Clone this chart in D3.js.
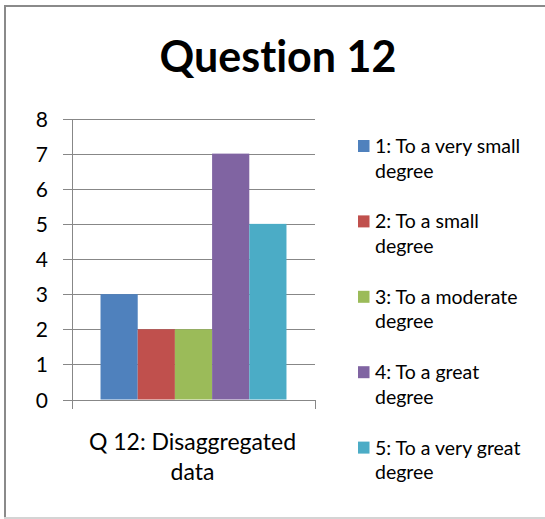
<!DOCTYPE html>
<html>
<head>
<meta charset="utf-8">
<script src="https://cdn.jsdelivr.net/npm/d3@7/dist/d3.min.js"></script>
<style>
  html, body { margin: 0; padding: 0; background: #fff; }
  text { font-family: Lato, "Open Sans", sans-serif; font-variant-ligatures: none; }
</style>
</head>
<body>
<div id="chart"></div>
<script>
// chart data
var title = "Question 12";
var categories = ["Q 12: Disaggregated data"];
var seriesNames = ["1: To a very small degree", "2: To a small degree", "3: To a moderate degree", "4: To a great degree", "5: To a very great degree"];
var seriesValues = [3, 2, 2, 7, 5];
var seriesColors = ["#4F81BD", "#C0504D", "#9BBB59", "#8064A2", "#4BACC6"];
var yTicks = [0, 1, 2, 3, 4, 5, 6, 7, 8];

var width = 545, height = 519;
var plot = { left: 72, right: 315, top: 118.5, bottom: 399.5 };

var svg = d3.select("#chart").append("svg")
  .attr("width", width)
  .attr("height", height);

// outer frame
svg.append("rect")
  .attr("x", 5).attr("y", 6)
  .attr("width", width + 10).attr("height", 512)
  .attr("fill", "#fff")
  .attr("stroke", "#8a8a8a")
  .attr("stroke-width", 2);
svg.append("line")
  .attr("x1", 4).attr("x2", width)
  .attr("y1", 518).attr("y2", 518)
  .attr("stroke", "#d4d4d4").attr("stroke-width", 2);

svg.append("text")
  .attr("x", 278).attr("y", 72)
  .attr("text-anchor", "middle")
  .attr("font-weight", "bold")
  .attr("font-size", 43)
  .text(title);

var y = d3.scaleLinear().domain([0, 8]).range([plot.bottom, plot.top]);

var x0 = d3.scaleBand().domain(categories)
  .range([plot.left, plot.right])
  .padding(0.133);

var x1 = d3.scaleBand().domain(seriesNames)
  .range([0, x0.bandwidth()]);

// gridlines + y axis
var yAxis = d3.axisLeft(y)
  .tickValues(yTicks)
  .tickSize(plot.right - plot.left + 9)
  .tickFormat(d3.format("d"));

var gy = svg.append("g")
  .attr("transform", "translate(" + plot.right + ",0)")
  .call(yAxis);
gy.select(".domain").remove();
gy.selectAll(".tick line").attr("stroke", "#878787").attr("shape-rendering", "crispEdges");
gy.selectAll(".tick text")
  .attr("x", -(plot.right - plot.left) - 24)
  .attr("dy", "0.36em")
  .attr("font-size", 21)
  .attr("fill", "#000")
  .style("font-family", "Lato, sans-serif");

// bars
svg.append("g").selectAll("rect")
  .data(seriesValues)
  .enter().append("rect")
  .attr("x", function(d, i) { return x0(categories[0]) + x1(seriesNames[i]); })
  .attr("y", function(d) { return y(d); })
  .attr("width", x1.bandwidth())
  .attr("height", function(d) { return y(0) - y(d); })
  .attr("fill", function(d, i) { return seriesColors[i]; });

// y axis line
svg.append("line")
  .attr("x1", plot.left).attr("x2", plot.left)
  .attr("y1", plot.top).attr("y2", plot.bottom)
  .attr("stroke", "#878787").attr("shape-rendering", "crispEdges");

// category ticks on x axis
svg.append("g").selectAll("line")
  .data([plot.left, plot.right])
  .enter().append("line")
  .attr("x1", function(d) { return d; }).attr("x2", function(d) { return d; })
  .attr("y1", plot.bottom).attr("y2", plot.bottom + 9)
  .attr("stroke", "#878787").attr("shape-rendering", "crispEdges");

// category label (two lines)
var catLines = ["Q 12: Disaggregated", "data"];
svg.append("text")
  .attr("y", 450)
  .attr("text-anchor", "middle")
  .attr("font-size", 23)
  .attr("fill", "#000")
  .selectAll("tspan")
  .data(catLines)
  .enter().append("tspan")
  .attr("x", x0(categories[0]) + x0.bandwidth() / 2 - 1)
  .attr("dy", function(d, i) { return i === 0 ? 0 : 30; })
  .text(function(d) { return d; });

// legend
var legendLines = [
  ["1: To a very small", "degree"],
  ["2: To a small", "degree"],
  ["3: To a moderate", "degree"],
  ["4: To a great", "degree"],
  ["5: To a very great", "degree"]
];
var legend = svg.append("g").selectAll("g")
  .data(seriesNames)
  .enter().append("g")
  .attr("transform", function(d, i) { return "translate(358," + (140 + i * 75.4) + ")"; });

legend.append("rect")
  .attr("width", 11.5).attr("height", 12)
  .attr("fill", function(d, i) { return seriesColors[i]; });

legend.append("text")
  .attr("font-size", 19.5)
  .attr("fill", "#000")
  .selectAll("tspan")
  .data(function(d, i) { return legendLines[i]; })
  .enter().append("tspan")
  .attr("x", 17)
  .attr("y", function(d, i) { return 13 + i * 24.5; })
  .text(function(d) { return d; });
</script>
</body>
</html>
